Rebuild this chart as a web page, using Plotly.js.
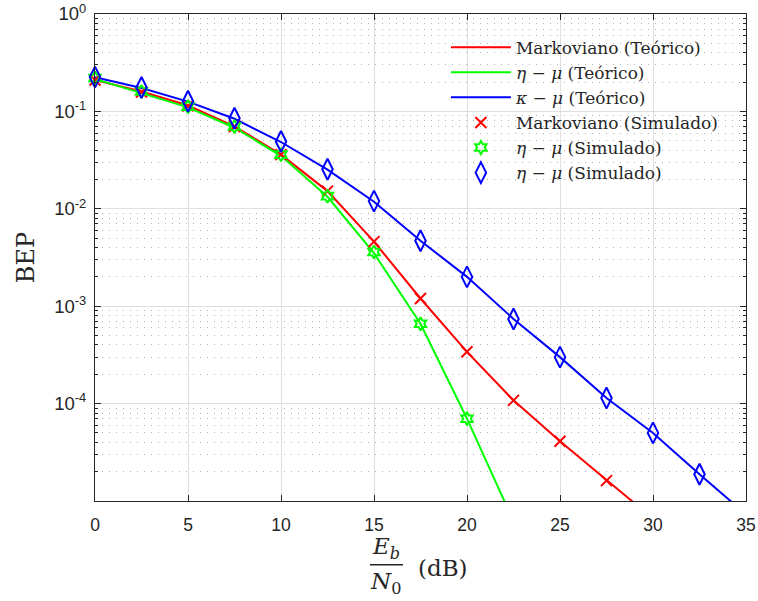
<!DOCTYPE html>
<html>
<head>
<meta charset="utf-8">
<script src="https://cdn.plot.ly/plotly-3.0.1.min.js"></script>
<style>html,body{margin:0;padding:0;background:#fff;}#chart{width:758px;height:601px;}</style>
</head>
<body>
<div id="chart"></div>
<script>
// ---- data ----
const markovTheoX = [0, 2.5, 5, 7.5, 10, 12.5, 15, 17.5, 20, 22.5, 25, 27.5, 30];
const markovTheoY = [0.21, 0.16, 0.115, 0.07, 0.036, 0.0152, 0.0046, 0.0012, 0.00034, 0.000108, 0.000041, 0.0000162, 0.0000066];
const etaTheoX = [0, 2.5, 5, 7.5, 10, 12.5, 15, 17.5, 20, 22.5];
const etaTheoY = [0.215, 0.155, 0.11, 0.068, 0.035, 0.0133, 0.0035, 0.00066, 0.00007, 0.0000062];
const kappaTheoX = [0, 2.5, 5, 7.5, 10, 12.5, 15, 17.5, 20, 22.5, 25, 27.5, 30, 32.5, 35];
const kappaTheoY = [0.225, 0.174, 0.126, 0.084, 0.0485, 0.0252, 0.0118, 0.0047, 0.002, 0.00074, 0.0003, 0.000114, 0.00005, 0.0000188, 0.0000073];

const markovSimX = [0, 2.5, 5, 7.5, 10, 12.5, 15, 17.5, 20, 22.5, 25, 27.5];
const markovSimY = [0.21, 0.158, 0.114, 0.07, 0.036, 0.0152, 0.0046, 0.0012, 0.00034, 0.000108, 0.000041, 0.0000162];
const etaSimX = [0, 2.5, 5, 7.5, 10, 12.5, 15, 17.5, 20];
const etaSimY = [0.22, 0.16, 0.112, 0.07, 0.036, 0.0135, 0.0036, 0.00066, 0.00007];
const kappaSimX = [0, 2.5, 5, 7.5, 10, 12.5, 15, 17.5, 20, 22.5, 25, 27.5, 30, 32.5];
const kappaSimY = [0.225, 0.176, 0.127, 0.085, 0.049, 0.0255, 0.012, 0.0047, 0.002, 0.00074, 0.0003, 0.000114, 0.00005, 0.0000188];

const names = [
  'Markoviano (Teórico)',
  '<i>η</i> − <i>μ</i> (Teórico)',
  '<i>κ</i> − <i>μ</i> (Teórico)',
  'Markoviano (Simulado)',
  '<i>η</i> − <i>μ</i> (Simulado)',
  '<i>η</i> − <i>μ</i> (Simulado)'
];
const xTicks = [0, 5, 10, 15, 20, 25, 30, 35];
const yTicks = [1, 0.1, 0.01, 0.001, 0.0001];
const yTickText = ['10<sup>0</sup>', '10<sup>-1</sup>', '10<sup>-2</sup>', '10<sup>-3</sup>', '10<sup>-4</sup>'];

const RED = '#ff0000', GREEN = '#00ff00', BLUE = '#0000ff';

const traces = [
  {x: markovTheoX, y: markovTheoY, mode: 'lines', name: names[0], line: {color: RED, width: 2}, cliponaxis: true},
  {x: etaTheoX, y: etaTheoY, mode: 'lines', name: names[1], line: {color: GREEN, width: 2}, cliponaxis: true},
  {x: kappaTheoX, y: kappaTheoY, mode: 'lines', name: names[2], line: {color: BLUE, width: 2}, cliponaxis: true},
  {x: markovSimX, y: markovSimY, mode: 'markers', name: names[3], cliponaxis: false,
   marker: {symbol: 'x-thin-open', size: 11, color: RED, line: {color: RED, width: 2}}},
  {x: etaSimX, y: etaSimY, mode: 'markers', name: names[4], cliponaxis: false,
   marker: {symbol: 'hexagram-open', size: 10, color: GREEN, line: {color: GREEN, width: 2}}},
  {x: kappaSimX, y: kappaSimY, mode: 'markers', name: names[5], cliponaxis: false,
   marker: {symbol: 'diamond-tall-open', size: 15, color: BLUE, line: {color: BLUE, width: 2}}}
];

const AX = '#262626';
const SERIF = 'DejaVu Serif, serif';
const layout = {
  width: 758, height: 601,
  margin: {l: 95, r: 12, t: 14, b: 100},
  paper_bgcolor: '#ffffff', plot_bgcolor: '#ffffff',
  showlegend: true,
  legend: {
    x: 0.539, y: 0.968, xanchor: 'left', yanchor: 'top',
    bgcolor: 'rgba(255,255,255,0)', borderwidth: 0,
    font: {family: SERIF, size: 17, color: '#262626'},
    tracegroupgap: 0, itemwidth: 60
  },
  xaxis: {
    range: [0, 35], tickvals: xTicks, ticktext: xTicks.map(String),
    showline: true, linecolor: AX, linewidth: 1, mirror: 'ticks',
    ticks: 'inside', ticklen: 6, tickcolor: AX, ticklabelstandoff: 8,
    showgrid: true, gridcolor: '#dfdfdf', gridwidth: 1, zeroline: false,
    tickfont: {family: 'Liberation Sans, Arial, sans-serif', size: 17.5, color: AX}
  },
  yaxis: {
    type: 'log', range: [-5, 0], tickvals: yTicks, ticktext: yTickText,
    showline: true, linecolor: AX, linewidth: 1, mirror: 'ticks',
    ticks: 'inside', ticklen: 6, tickcolor: AX, ticklabelstandoff: 4,
    showgrid: true, gridcolor: '#dfdfdf', gridwidth: 1, zeroline: false,
    tickfont: {family: 'Liberation Sans, Arial, sans-serif', size: 18.5, color: AX},
    minor: {dtick: 'D1', ticks: 'inside', ticklen: 3, tickcolor: AX,
            showgrid: true, gridcolor: '#b4b4b4', griddash: '1px,6px', gridwidth: 1},
    title: {text: 'BEP', standoff: 12, font: {family: SERIF, size: 24, color: AX}}
  },
  annotations: [
    {xref: 'paper', yref: 'paper', x: 0.447, y: -0.097, xanchor: 'center', yanchor: 'middle', showarrow: false,
     text: '<i>E</i><sub><i>b</i></sub>', font: {family: SERIF, size: 23, color: AX}},
    {xref: 'paper', yref: 'paper', x: 0.447, y: -0.168, xanchor: 'center', yanchor: 'middle', showarrow: false,
     text: '<i>N</i><sub>0</sub>', font: {family: SERIF, size: 23, color: AX}},
    {xref: 'paper', yref: 'paper', x: 0.493, y: -0.138, xanchor: 'left', yanchor: 'middle', showarrow: false,
     text: '(dB)', font: {family: SERIF, size: 23, color: AX}}
  ],
  shapes: [
    {type: 'line', xref: 'paper', yref: 'paper', x0: 0.4224, x1: 0.4731, y0: -0.131, y1: -0.131,
     line: {color: AX, width: 1.5}}
  ]
};

Plotly.newPlot('chart', traces, layout, {displayModeBar: false, staticPlot: true});
</script>
</body>
</html>
